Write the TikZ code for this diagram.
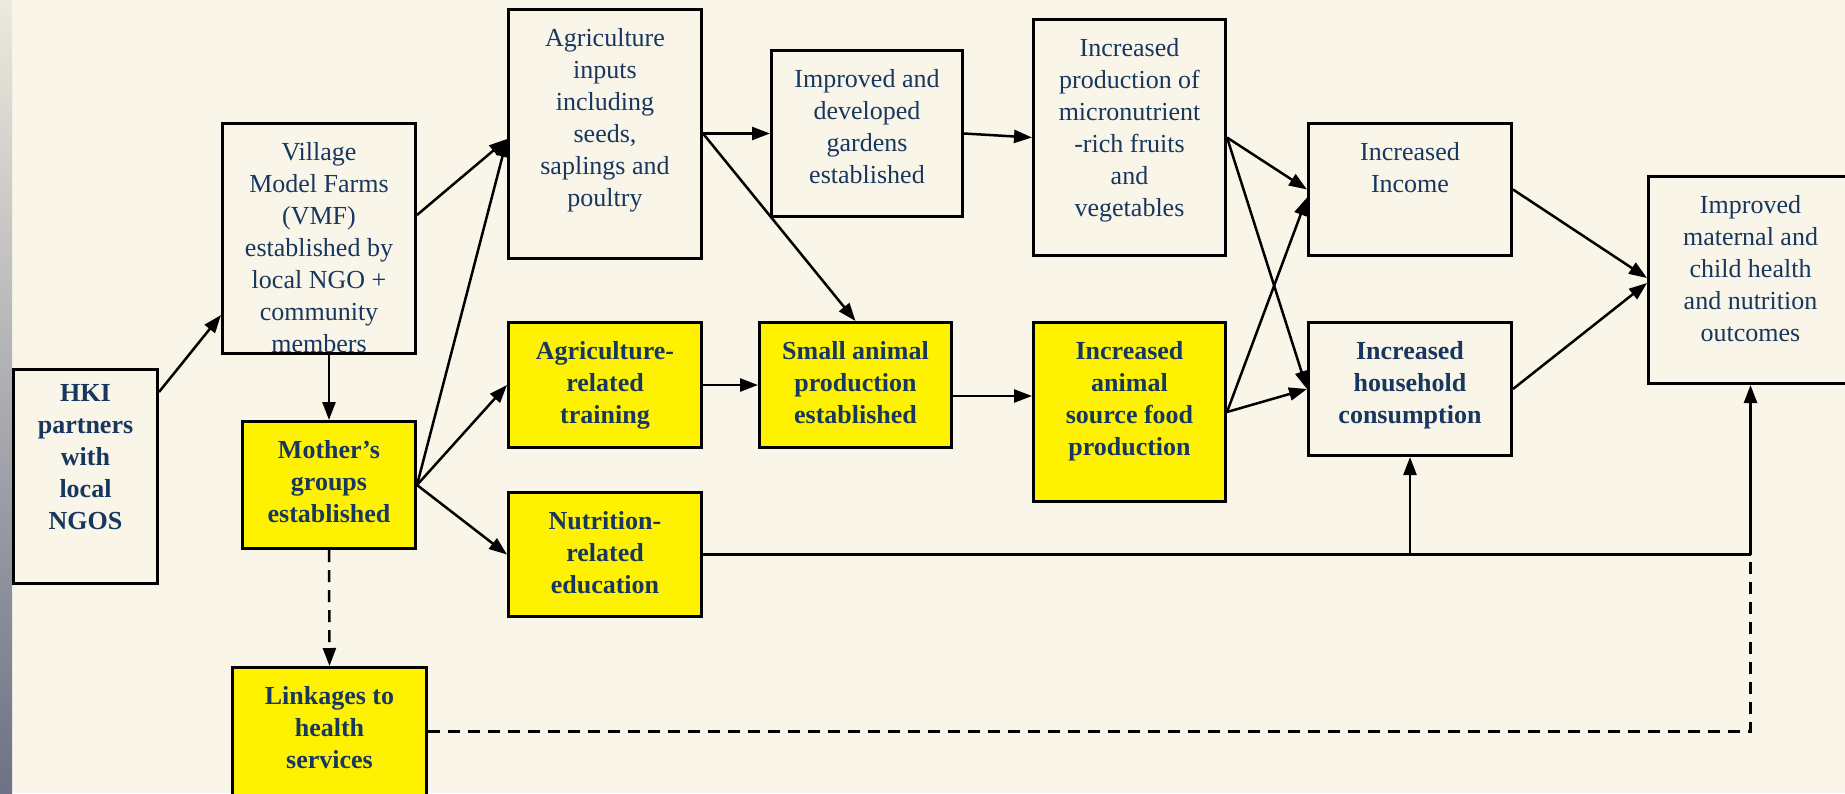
\documentclass[tikz,border=0pt]{standalone}
\usepackage{fontspec}
\setmainfont{Liberation Serif}
\usetikzlibrary{arrows.meta,calc}
\definecolor{cream}{RGB}{249,245,232}
\definecolor{navy}{RGB}{23,55,94}
\definecolor{stripetop}{RGB}{236,233,221}
\definecolor{stripebot}{RGB}{108,113,133}
\tikzset{>={Triangle[length=18pt,width=13pt]}}
\tikzset{
  whitebox/.style={draw=black, line width=3pt, fill=cream, text=navy, inner sep=0pt,
    anchor=north west, font=\fontsize{26}{32}\selectfont},
  strong/.style={font=\fontsize{26}{32}\selectfont\bfseries},
  yellowbox/.style={whitebox, fill=yellow, strong},
  link/.style={->, line width=2.5pt},
  weak/.style={line width=2.5pt, dash pattern=on 12pt off 8pt},
}
\newcommand{\boxtext}[4][37pt]{\parbox[c][#3][t]{#2}{\centering\rule{0pt}{#1}#4}}

\begin{document}
\begin{tikzpicture}[x=1pt,y=-1pt]
    \useasboundingbox (0,0) rectangle (1845,793);
    \fill[cream] (0,0) rectangle (1845,793);
    \shade[top color=stripetop, bottom color=stripebot] (0,0) rectangle (12,793);

    % boxes
    \node[whitebox, strong] (hki) at (12,368) {\boxtext[32pt]{144pt}{214pt}{HKI\\partners\\with\\local\\NGOS}};
    \node[whitebox] (vmf) at (221,122) {\boxtext{193pt}{230pt}{Village\\Model Farms\\(VMF)\\established by\\local NGO +\\community\\members}};
    \node[yellowbox] (mother) at (241,420) {\boxtext{173pt}{127pt}{Mother’s\\groups\\established}};
    \node[yellowbox] (linkages) at (231,666) {\boxtext{194pt}{140pt}{Linkages to\\health\\services}};
    \node[whitebox] (inputs) at (507,8) {\boxtext{193pt}{249pt}{Agriculture\\inputs\\including\\seeds,\\saplings and\\poultry}};
    \node[yellowbox] (training) at (507,321) {\boxtext{193pt}{125pt}{Agriculture-\\related\\training}};
    \node[yellowbox] (nutrition) at (507,491) {\boxtext{193pt}{124pt}{Nutrition-\\related\\education}};
    \node[whitebox] (gardens) at (770,49) {\boxtext{191pt}{166pt}{Improved and\\developed\\gardens\\established}};
    \node[yellowbox] (animal) at (758,321) {\boxtext{192pt}{125pt}{Small animal\\production\\established}};
    \node[whitebox] (prod) at (1032,18) {\boxtext{192pt}{236pt}{Increased\\production of\\micronutrient\\-rich fruits\\and\\vegetables}};
    \node[yellowbox] (source) at (1032,321) {\boxtext{192pt}{179pt}{Increased\\animal\\source food\\production}};
    \node[whitebox] (income) at (1307,122) {\boxtext{203pt}{132pt}{Increased\\Income}};
    \node[whitebox, strong] (household) at (1307,321) {\boxtext{203pt}{133pt}{Increased\\household\\consumption}};
    \node[whitebox] (maternal) at (1647,175) {\boxtext{204pt}{207pt}{Improved\\maternal and\\child health\\and nutrition\\outcomes}};

    % arrows
    \draw[link] ([yshift=-24pt]hki.north east) -- ([yshift=40pt]vmf.south west);
    \draw[link] ([yshift=-93pt]vmf.north east) -- ([yshift=-131pt]inputs.north west);
    \draw[link] (mother.east) -- ([yshift=-131pt]inputs.north west);
    \draw[link] (mother.east) -- (training.west);
    \draw[link] (mother.east) -- (nutrition.west);
    \draw[link] (mother.north |- vmf.south) -- (mother.north);
    \draw[link, weak] (mother.south) -- (linkages.north);
    \draw[link] (inputs.east |- gardens.west) -- (gardens.west);
    \draw[link] (inputs.east |- gardens.west) -- (animal.north);
    \draw[link] (gardens.east) -- (prod.west);
    \draw[link] (training.east) -- (animal.west);
    \draw[link] ([yshift=-11pt]animal.east) -- ([yshift=-11pt]animal.east -| source.west);
    \draw[link] (prod.east) -- (income.west);
    \draw[link] (prod.east) -- (household.west);
    \draw[link] (source.east) -- ([yshift=-8pt]income.west);
    \draw[link] (source.east) -- (household.west);
    \draw[link] (income.east) -- ([yshift=2pt]maternal.west);
    \draw[link] (household.east) -- ([yshift=-3pt]maternal.west);
    \coordinate (join) at (maternal.south |- nutrition.east);
    \draw[line width=3pt] (nutrition.east) -- (household.south |- join);
    \draw[line width=2.5pt] (household.south |- join) -- (join);
    \draw[link] (household.south |- join) -- (household.south);
    \draw[link] (join) -- (maternal.south);
    \draw[weak] ([yshift=6pt]linkages.east) -| (join);
\end{tikzpicture}
\end{document}
